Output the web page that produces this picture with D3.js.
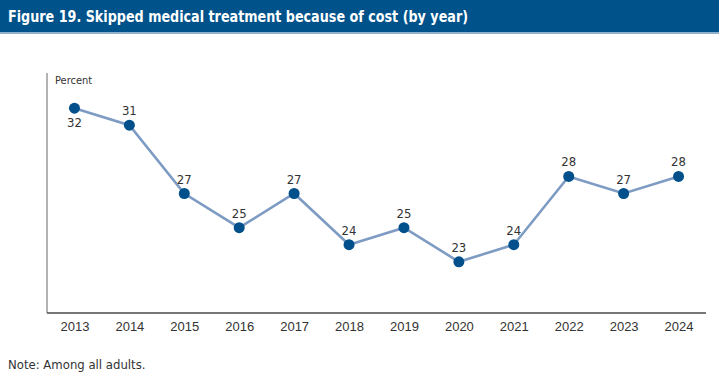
<!DOCTYPE html>
<html>
<head>
<meta charset="utf-8">
<script src="https://cdn.jsdelivr.net/npm/d3@7"></script>
<style>
	body { margin: 0; background: #fff; }
	svg { display: block; font-family: 'DejaVu Sans Condensed', 'Liberation Sans', sans-serif; }
</style>
</head>
<body>
<svg id="chart" width="719" height="384"></svg>
<script>
const years = ['2013','2014','2015','2016','2017','2018','2019','2020','2021','2022','2023','2024']
const percents = [32, 31, 27, 25, 27, 24, 25, 23, 24, 28, 27, 28]
const labelBelow = ['2013']

const title = 'Figure 19. Skipped medical treatment because of cost (by year)'
const note = 'Note: Among all adults.'

const width = 719
const height = 384
const axisLeft = 47
const axisRight = 706
const axisTop = 73
const axisBottom = 313

const svg = d3.select('#chart')

// header band
svg.append('rect').attr('x', 0).attr('y', 0).attr('width', width).attr('height', 32).attr('fill', '#00528a')
svg.append('rect').attr('x', 0).attr('y', 32).attr('width', width).attr('height', 2).attr('fill', '#8fb1c9')
svg.append('text')
	.attr('x', 8).attr('y', 22)
	.attr('fill', '#fff')
	.attr('font-size', 16)
	.attr('font-weight', 'bold')
	.attr('textLength', 460)
	.attr('lengthAdjust', 'spacingAndGlyphs')
	.text(title)

const x = d3.scalePoint().domain(years).range([axisLeft, axisRight]).padding(0.5)
const y = d3.scaleLinear().domain([20, 34]).range([axisBottom, axisTop + 1])

// axes
svg.append('line')
	.attr('x1', axisLeft).attr('x2', axisLeft)
	.attr('y1', axisTop).attr('y2', axisBottom)
	.attr('stroke', '#9a9a9a').attr('stroke-width', 1.5)

const xAxis = d3.axisBottom(x).tickSize(0).tickPadding(9)
const gx = svg.append('g')
	.attr('transform', `translate(0,${axisBottom})`)
	.call(xAxis)
gx.select('.domain').attr('d', `M${axisLeft},0H${axisRight}`).attr('stroke', '#4a4a4a').attr('stroke-width', 1.5)
gx.selectAll('text')
	.attr('font-family', null)
	.attr('font-size', 13)
	.attr('fill', '#333')

svg.append('text')
	.attr('x', 55).attr('y', 84)
	.attr('font-size', 11)
	.attr('fill', '#333')
	.text('Percent')

// line + points
const data = years.map((yr, i) => ({year: yr, value: percents[i]}))

svg.append('path')
	.datum(data)
	.attr('fill', 'none')
	.attr('stroke', '#7e9bc3')
	.attr('stroke-width', 2.6)
	.attr('d', d3.line().x(d => x(d.year)).y(d => y(d.value)))

svg.selectAll('circle.pt').data(data).enter()
	.append('circle')
	.attr('class', 'pt')
	.attr('cx', d => x(d.year))
	.attr('cy', d => y(d.value))
	.attr('r', 5.5)
	.attr('fill', '#014f8b')

svg.selectAll('text.val').data(data).enter()
	.append('text')
	.attr('class', 'val')
	.attr('x', d => x(d.year))
	.attr('y', d => labelBelow.includes(d.year) ? y(d.value) + 19 : y(d.value) - 10)
	.attr('text-anchor', 'middle')
	.attr('font-size', 13)
	.attr('fill', '#333')
	.text(d => d.value)

svg.append('text')
	.attr('x', 8).attr('y', 369)
	.attr('font-size', 13)
	.attr('fill', '#333')
	.text(note)
</script>
</body>
</html>
